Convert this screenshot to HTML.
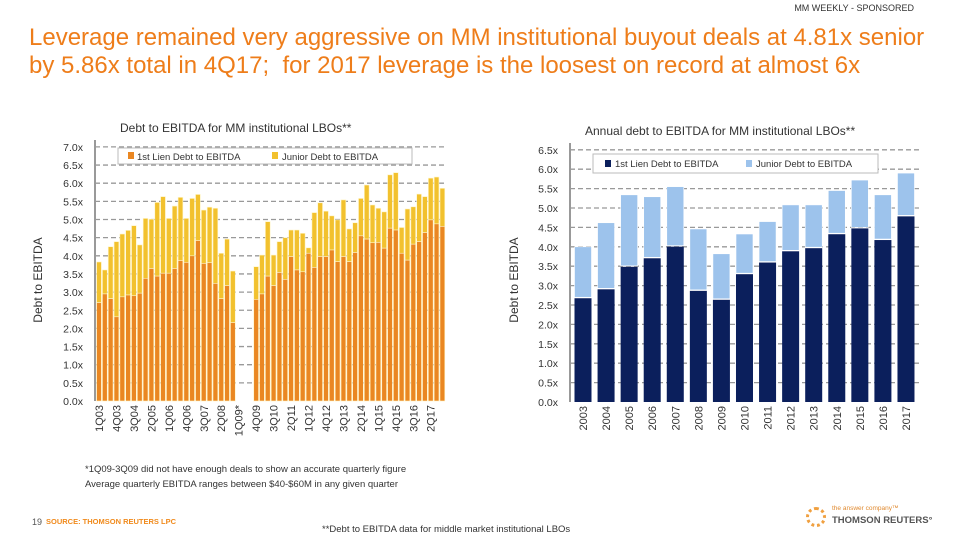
<!DOCTYPE html>
<html><head><meta charset="utf-8">
<style>
body{margin:0;background:#fff;}
#root{position:relative;width:960px;height:540px;overflow:hidden;font-family:"Liberation Sans",sans-serif;}
.t{position:absolute;white-space:nowrap;}
svg text{font-family:"Liberation Sans",sans-serif;}
</style></head>
<body>
<div id="root">
<div class="t" style="right:46px;top:3px;font-size:9px;color:#333">MM WEEKLY - SPONSORED</div>
<div class="t" style="left:29px;top:24px;font-size:24px;line-height:28px;color:#ee7d1a">Leverage remained very aggressive on MM institutional buyout deals at 4.81x senior<br>by 5.86x total in 4Q17;&nbsp; for 2017 leverage is the loosest on record at almost 6x</div>
<svg id="chart" width="960" height="540" style="position:absolute;left:0;top:0"></svg>
<div class="t" style="left:85px;top:462px;font-size:9.5px;color:#333;line-height:15px">*1Q09-3Q09 did not have enough deals to show an accurate quarterly figure<br>Average quarterly EBITDA ranges between $40-$60M in any given quarter</div>
<div class="t" style="left:32px;top:517px;font-size:9px;color:#555">19</div>
<div class="t" style="left:46px;top:517px;font-size:7.5px;color:#f08a1c;font-weight:bold">SOURCE: THOMSON REUTERS LPC</div>
<div class="t" style="left:322px;top:524px;font-size:9.5px;color:#333">**Debt to EBITDA data for middle market institutional LBOs</div>
<div class="t" style="left:806px;top:507px;width:20px;height:20px;border-radius:50%;border:3px dotted #f0a040;box-sizing:border-box"></div>
<div class="t" style="left:832px;top:505px;font-size:6.5px;color:#e08a30">the answer company™</div>
<div class="t" style="left:832px;top:515px;font-size:9.5px;color:#555;font-weight:bold">THOMSON REUTERS°</div>
</div>
<script>
const qLabels=["1Q03","4Q03","3Q04","2Q05","1Q06","4Q06","3Q07","2Q08","1Q09*","4Q09","3Q10","2Q11","1Q12","4Q12","3Q13","2Q14","1Q15","4Q15","3Q16","2Q17"];
const qFirstLien=[2.71,2.95,2.82,2.32,2.87,2.92,2.90,2.97,3.38,3.65,3.44,3.52,3.52,3.65,3.87,3.82,4.0,4.42,3.79,3.81,3.24,2.82,3.18,2.16,null,null,null,2.80,2.95,3.44,3.18,3.54,3.35,3.98,3.61,3.56,4.07,3.68,3.98,3.98,4.16,3.84,3.98,3.84,4.09,4.55,4.46,4.36,4.37,4.21,4.76,4.71,4.07,3.88,4.32,4.39,4.64,4.99,4.88,4.81];
const qTotal=[3.83,3.61,4.25,4.39,4.60,4.70,4.83,4.30,5.03,5.01,5.47,5.63,5.03,5.37,5.61,5.03,5.58,5.69,5.26,5.34,5.31,4.07,4.46,3.58,null,null,null,3.70,4.02,4.94,4.02,4.39,4.50,4.71,4.71,4.62,4.22,5.19,5.46,5.23,5.10,4.99,5.54,4.74,4.91,5.58,5.95,5.40,5.31,5.21,6.23,6.29,4.78,5.29,5.35,5.70,5.63,6.14,6.17,5.86];
const leftTicks=[0,0.5,1,1.5,2,2.5,3,3.5,4,4.5,5,5.5,6,6.5,7];
const years=["2003","2004","2005","2006","2007","2008","2009","2010","2011","2012","2013","2014","2015","2016","2017"];
const yFirstLien=[2.70,2.93,3.51,3.73,4.03,2.89,2.66,3.32,3.62,3.91,3.99,4.35,4.50,4.20,4.81];
const yTotal=[4.0,4.62,5.34,5.29,5.55,4.46,3.82,4.33,4.65,5.08,5.08,5.45,5.72,5.34,5.90];
const rightTicks=[0,0.5,1,1.5,2,2.5,3,3.5,4,4.5,5,5.5,6,6.5];

const svg=document.getElementById('chart');
const NS='http://www.w3.org/2000/svg';
function mk(tag,attrs,parent){const e=document.createElementNS(NS,tag);for(const k in attrs)e.setAttribute(k,attrs[k]);(parent||svg).appendChild(e);return e;}
function txt(x,y,s,size,fill,anchor,rot){const e=mk('text',{x:x,y:y,'font-size':size,fill:fill,'text-anchor':anchor||'start'});if(rot)e.setAttribute('transform','rotate('+rot+' '+x+' '+y+')');e.textContent=s;return e;}

// LEFT CHART
const L={x0:95,x1:447,y0:401,pxPerUnit:36.3,pitch:5.82,first:99,bw:4.8};
const ly=v=>L.y0-v*L.pxPerUnit;
const lx=i=>L.first+i*L.pitch;
const gL=mk('g',{});


leftTicks.forEach(t=>{
  if(t>0){const g=mk('line',{x1:L.x0,x2:L.x1,y1:ly(t),y2:ly(t),stroke:'#999','stroke-width':1.3,'stroke-dasharray':'5,3'},gL);
  }
  const e=txt(83,ly(t)+4,t.toFixed(1)+'x',10.5,'#333','end');
  gL.appendChild(e);
});
qTotal.forEach((tv,i)=>{
  if(tv==null)return;
  const fl=qFirstLien[i];
  const r2=mk('rect',{x:lx(i)-L.bw/2,y:ly(tv),width:L.bw,height:ly(fl)-ly(tv),fill:'#f2c12e',stroke:'#fff6c8','stroke-width':0.6},gL);
  
  const r1=mk('rect',{x:lx(i)-L.bw/2,y:ly(fl),width:L.bw,height:L.y0-ly(fl),fill:'#ea8722',stroke:'#fff2c0','stroke-width':0.6},gL);
  
});
mk('line',{x1:L.x0,x2:L.x0,y1:140,y2:L.y0,stroke:'#999','stroke-width':2},gL);
qLabels.forEach((s,k)=>{const x=lx(k*3)+4;const e=txt(x,405,s,11,'#333','end',-90);gL.appendChild(e);});
let e=txt(42,280,'Debt to EBITDA',12,'#333','middle',-90);
e=txt(120,132,'Debt to EBITDA for MM institutional LBOs**',12,'#333');
const lg=mk('g',{});
mk('rect',{x:118,y:148,width:294,height:16,fill:'#fff',stroke:'#bbb'},lg);
mk('rect',{x:128,y:152,width:6,height:7,fill:'#ea8722'},lg);
txt(137,160,'1st Lien Debt to EBITDA',9.5,'#333');lg.appendChild(svg.lastChild);
mk('rect',{x:272,y:152,width:6,height:7,fill:'#f2c12e'},lg);
txt(282,160,'Junior Debt to EBITDA',9.5,'#333');lg.appendChild(svg.lastChild);

// RIGHT CHART
const R={x0:570,x1:920,y0:402,pxPerUnit:38.8,pitch:23.07,first:583,bw:17};
const ry=v=>R.y0-v*R.pxPerUnit;
const rx=i=>R.first+i*R.pitch;
const gR=mk('g',{});


rightTicks.forEach(t=>{
  if(t>0){const g=mk('line',{x1:R.x0,x2:R.x1,y1:ry(t),y2:ry(t),stroke:'#999','stroke-width':1.3,'stroke-dasharray':'5,3'},gR);
  }
  const e=txt(558,ry(t)+4,t.toFixed(1)+'x',10.5,'#333','end');
  gR.appendChild(e);
});
yTotal.forEach((tv,i)=>{
  const fl=yFirstLien[i];
  const r2=mk('rect',{x:rx(i)-R.bw/2,y:ry(tv),width:R.bw,height:ry(fl)-ry(tv),fill:'#9dc3ec',stroke:'#fff','stroke-width':0.6},gR);
  
  const r1=mk('rect',{x:rx(i)-R.bw/2,y:ry(fl)+1,width:R.bw,height:R.y0-ry(fl)-1,fill:'#0b1f5c'},gR);
  
  const e=txt(rx(i)+4,406,years[i],11,'#333','end',-90);gR.appendChild(e);
});
mk('line',{x1:R.x0,x2:R.x0,y1:143,y2:R.y0,stroke:'#999','stroke-width':2},gR);
e=txt(518,280,'Debt to EBITDA',12,'#333','middle',-90);
e=txt(585,135,'Annual debt to EBITDA for MM  institutional LBOs**',12,'#333');
const rg=mk('g',{});
mk('rect',{x:593,y:154,width:285,height:19,fill:'#fff',stroke:'#bbb'},rg);
mk('rect',{x:605,y:160,width:6,height:7,fill:'#0b1f5c'},rg);
txt(615,167,'1st Lien Debt to EBITDA',9.5,'#333');rg.appendChild(svg.lastChild);
mk('rect',{x:746,y:160,width:6,height:7,fill:'#9dc3ec'},rg);
txt(756,167,'Junior Debt to EBITDA',9.5,'#333');rg.appendChild(svg.lastChild);
</script>
</body></html>
